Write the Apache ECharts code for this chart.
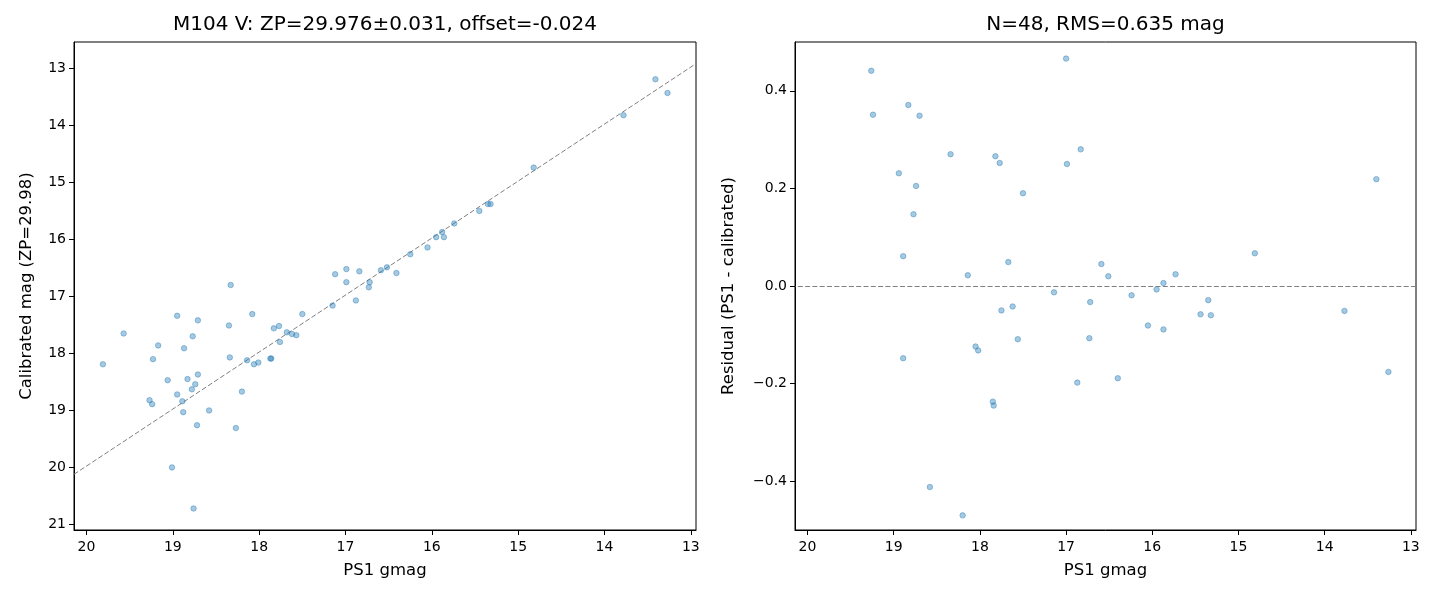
<!DOCTYPE html>
<html>
<head>
<meta charset="utf-8">
<title>M104 V calibration</title>
<script src="https://cdn.jsdelivr.net/npm/echarts@6/dist/echarts.min.js"></script>
<style>
  html, body { margin: 0; padding: 0; background: #ffffff; }
  #main { width: 1440px; height: 600px; }
</style>
</head>
<body>
<div id="main"></div>
<script>
// left panel: PS1 gmag vs calibrated mag
var ps1Left = [19.81, 19.57, 19.17, 19.23, 18.95, 18.87, 18.71, 18.77, 19.06, 18.83,
  18.71, 18.74, 18.78, 18.95, 19.27, 19.24, 18.89, 18.88, 18.58, 18.72,
  18.27, 19.01, 18.76, 18.33, 18.35, 18.34, 18.08, 18.20, 18.14, 18.06,
  18.01, 17.87, 17.86, 17.83, 17.77, 17.76, 17.68, 17.62, 17.57, 17.50,
  17.15, 17.12, 16.99, 16.99, 16.88, 16.84, 16.72, 16.73, 16.59, 16.52,
  16.41, 16.25, 16.05, 15.95, 15.88, 15.86, 15.74, 15.45, 15.35, 15.32,
  14.82, 13.78, 13.41, 13.27]
var calLeft = [18.19, 17.65, 17.86, 18.10, 17.34, 17.91, 17.42, 17.70, 18.47, 18.45,
  18.37, 18.54, 18.63, 18.72, 18.82, 18.89, 18.84, 19.03, 19.00, 19.26,
  19.31, 20.00, 20.72, 16.80, 17.51, 18.07, 17.31, 18.67, 18.12, 18.19,
  18.16, 18.09, 18.09, 17.56, 17.52, 17.80, 17.63, 17.66, 17.68, 17.31,
  17.16, 16.61, 16.52, 16.75, 17.07, 16.56, 16.75, 16.84, 16.54, 16.49,
  16.59, 16.26, 16.14, 15.96, 15.87, 15.96, 15.72, 15.50, 15.38, 15.38,
  14.74, 13.82, 13.19, 13.43]

// right panel: residuals
var ps1Res = [19.26, 19.24, 18.83, 18.70, 18.34, 17.82, 17.77, 18.94, 18.74, 17.50,
  18.77, 18.89, 17.67, 18.14, 17.14, 17.62, 17.75, 17.56, 18.05, 18.02,
  18.89, 17.85, 17.84, 18.58, 18.20, 17.00, 16.83, 16.99, 14.81, 16.59,
  15.73, 16.51, 15.87, 15.95, 16.24, 15.35, 16.72, 15.44, 15.32, 16.05,
  15.87, 16.73, 16.40, 16.87, 13.77, 13.40, 13.26]
var resVals = [0.441, 0.351, 0.371, 0.349, 0.270, 0.266, 0.252, 0.231, 0.205, 0.190,
  0.147, 0.061, 0.049, 0.022, -0.013, -0.042, -0.050, -0.109, -0.124, -0.132,
  -0.148, -0.237, -0.245, -0.412, -0.470, 0.466, 0.280, 0.250, 0.067, 0.045,
  0.024, 0.020, 0.006, -0.007, -0.019, -0.029, -0.033, -0.058, -0.060, -0.081,
  -0.089, -0.107, -0.189, -0.198, -0.051, 0.219, -0.176]

var magTicks = [13, 14, 15, 16, 17, 18, 19, 20]
var calTicks = [13, 14, 15, 16, 17, 18, 19, 20, 21]
var resTicks = [-0.4, -0.2, 0, 0.2, 0.4]
var offset = -0.024

var xMin = 12.94, xMax = 20.145
var font = 'DejaVu Sans'
var dotColor = 'rgba(31,119,180,0.5)'
var guide = { color: '#808080', width: 1, type: [5, 2.3] }

function pair(a, b) {
  var out = []
  for (var i = 0; i < a.length; i++) out.push([a[i], b[i]])
  return out
}

function xAxisFor(idx) {
  return {
    type: 'value',
    gridIndex: idx,
    inverse: true,
    min: xMin,
    max: xMax,
    name: 'PS1 gmag',
    nameLocation: 'middle',
    nameGap: 32,
    nameTextStyle: { fontSize: 16.5, color: '#000', fontFamily: font },
    axisLine: { show: true, onZero: false, lineStyle: { color: '#000', width: 1 } },
    axisTick: { show: true, length: 5, customValues: magTicks, lineStyle: { color: '#000', width: 1 } },
    axisLabel: { customValues: magTicks, margin: 10, fontSize: 14, color: '#000', fontFamily: font },
    splitLine: { show: false }
  }
}

var chart = echarts.init(document.getElementById('main'))

chart.setOption({
  animation: false,
  backgroundColor: '#ffffff',
  graphic: [{
    type: 'text',
    x: 385, y: 25,
    style: {
      text: 'M104 V: ZP=29.976\u00b10.031, offset=-0.024',
      font: '20px "DejaVu Sans"', fill: '#000',
      textAlign: 'center', textVerticalAlign: 'middle'
    }
  }, {
    type: 'text',
    x: 1105.5, y: 25,
    style: {
      text: 'N=48, RMS=0.635 mag',
      font: '20px "DejaVu Sans"', fill: '#000',
      textAlign: 'center', textVerticalAlign: 'middle'
    }
  }],
  grid: [
    { left: 74, right: 744, top: 42, bottom: 70, show: true, borderColor: '#000', borderWidth: 1 },
    { left: 795, right: 24, top: 42, bottom: 70, show: true, borderColor: '#000', borderWidth: 1 }
  ],
  xAxis: [xAxisFor(0), xAxisFor(1)],
  yAxis: [{
    type: 'value',
    gridIndex: 0,
    inverse: true,
    min: 12.536,
    max: 21.098,
    name: 'Calibrated mag (ZP=29.98)',
    nameLocation: 'middle',
    nameGap: 39,
    nameTextStyle: { fontSize: 16.5, color: '#000', fontFamily: font },
    axisLine: { show: true, onZero: false, lineStyle: { color: '#000', width: 1 } },
    axisTick: { show: true, length: 5, customValues: calTicks, lineStyle: { color: '#000', width: 1 } },
    axisLabel: { customValues: calTicks, margin: 8, fontSize: 14, color: '#000', fontFamily: font },
    splitLine: { show: false }
  }, {
    type: 'value',
    gridIndex: 1,
    min: -0.5,
    max: 0.5,
    name: 'Residual (PS1 - calibrated)',
    nameLocation: 'middle',
    nameGap: 58,
    nameTextStyle: { fontSize: 16.5, color: '#000', fontFamily: font },
    axisLine: { show: true, onZero: false, lineStyle: { color: '#000', width: 1 } },
    axisTick: { show: true, length: 5, customValues: resTicks, lineStyle: { color: '#000', width: 1 } },
    axisLabel: {
      customValues: resTicks, margin: 8, fontSize: 14, color: '#000', fontFamily: font,
      formatter: function (v) { return (v < 0 ? '\u2212' : '') + Math.abs(v).toFixed(1) }
    },
    splitLine: { show: false }
  }],
  series: [{
    type: 'line',
    xAxisIndex: 0,
    yAxisIndex: 0,
    silent: true,
    symbol: 'none',
    lineStyle: guide,
    data: [[xMax, xMax + offset], [xMin, xMin + offset]],
    z: 1
  }, {
    type: 'scatter',
    xAxisIndex: 0,
    yAxisIndex: 0,
    symbolSize: 5.5,
    itemStyle: { color: dotColor, borderColor: dotColor, borderWidth: 1 },
    data: pair(ps1Left, calLeft),
    z: 2
  }, {
    type: 'scatter',
    xAxisIndex: 1,
    yAxisIndex: 1,
    symbolSize: 5.5,
    clip: true,
    itemStyle: { color: dotColor, borderColor: dotColor, borderWidth: 1 },
    data: pair(ps1Res, resVals),
    markLine: {
      silent: true,
      symbol: ['none', 'none'],
      label: { show: false },
      lineStyle: guide,
      data: [{ yAxis: 0 }]
    },
    z: 2
  }]
})
</script>
</body>
</html>
